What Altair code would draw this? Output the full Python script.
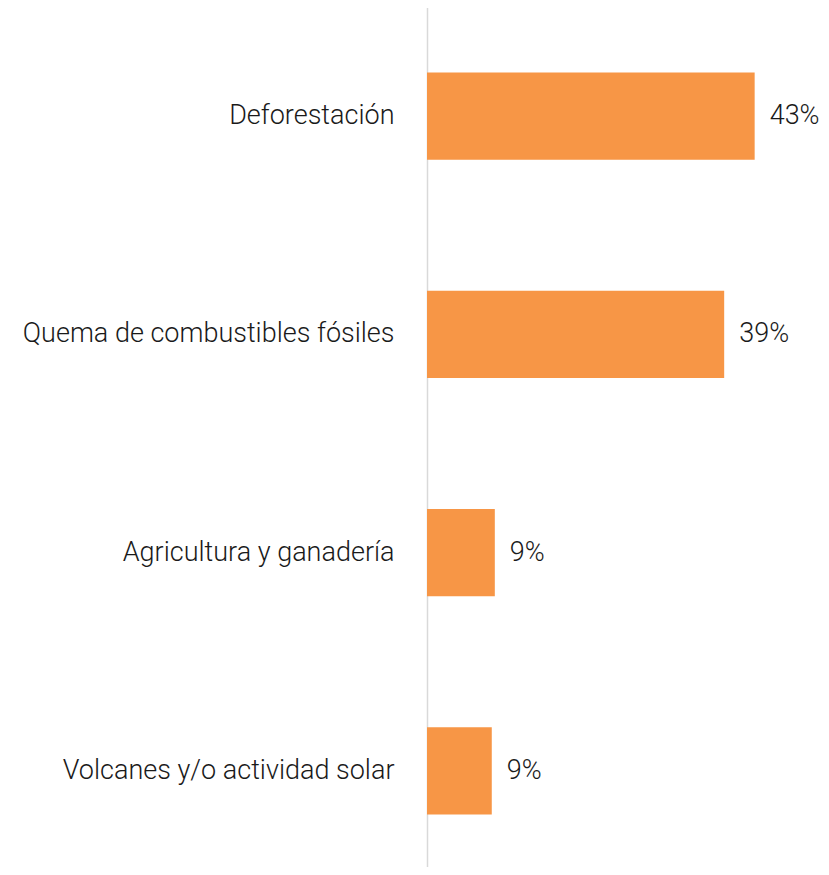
import altair as alt
import pandas as pd

categories = ["Deforestación", "Quema de combustibles fósiles", "Agricultura y ganadería", "Volcanes y/o actividad solar"]
values = [43, 39, 8.9, 8.5]
labels = ["43%", "39%", "9%", "9%"]

df = pd.DataFrame({"cat": categories, "val": values, "lab": labels})

FONT = "Roboto"

y_enc = alt.Y("cat:N", sort=categories, title=None,
              scale=alt.Scale(paddingInner=0.6, paddingOuter=0.3, range=[-1, 872]),
              axis=alt.Axis(domain=True, domainColor="#d9d9d9", domainWidth=1.5, ticks=False,
                            labelFont=FONT, labelFontSize=27, labelFontWeight=300,
                            labelColor="#1a1a1a",
                            labelPadding=33, grid=False, labelLimit=500))
x_enc = alt.X("val:Q", scale=alt.Scale(domain=[0, 50]), axis=None)

bars = alt.Chart(df).mark_bar(color="#F79646").encode(x=x_enc, y=y_enc)
text = alt.Chart(df).mark_text(align="left", baseline="middle", dx=15, font=FONT,
                               fontSize=27, fontWeight=300, color="#1a1a1a").encode(
    x=x_enc, y=alt.Y("cat:N", sort=categories), text="lab:N")

chart = (bars + text).properties(
    width=381, height=859,
    autosize=alt.AutoSizeParams(type="none"),
    padding={"left": 419, "top": 0, "right": 12, "bottom": 0},
).configure_view(stroke=None)

chart.save("out.html", embed_options={"renderer": "svg", "actions": False})
